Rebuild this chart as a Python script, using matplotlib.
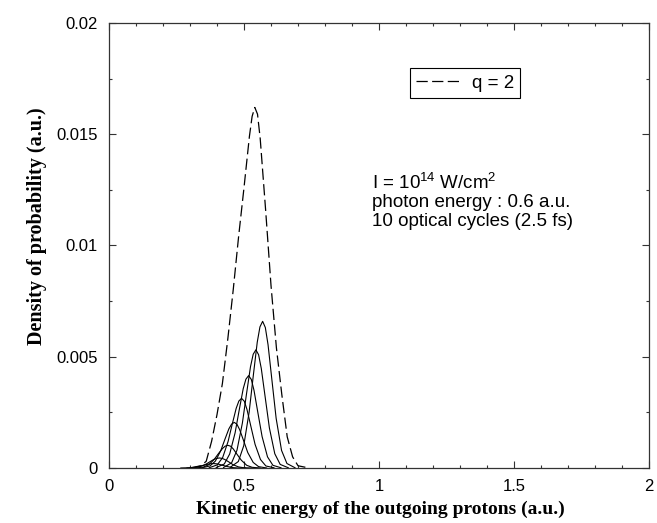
import matplotlib
matplotlib.use('Agg')
import matplotlib.pyplot as plt
from matplotlib.ticker import MultipleLocator

plt.rcParams['font.family'] = ['Liberation Sans', 'DejaVu Sans']
plt.rcParams['mathtext.fontset'] = 'custom'
plt.rcParams['mathtext.rm'] = 'Liberation Sans'
plt.rcParams['mathtext.it'] = 'Liberation Sans:italic'

# ---- data ----
# dashed total curve, q = 2
q2_x = [0.30, 0.34, 0.36, 0.38, 0.40, 0.42, 0.44, 0.46, 0.48, 0.50, 0.52, 0.53,
        0.54, 0.55, 0.56, 0.58, 0.60, 0.62, 0.64, 0.66, 0.68, 0.70, 0.74]
q2_y = [0.0, 0.0001, 0.0003, 0.0012, 0.0024, 0.0038, 0.0058, 0.0080, 0.0104,
        0.0126, 0.0149, 0.0158, 0.0162, 0.0159, 0.0148, 0.0116, 0.0082, 0.0054,
        0.0033, 0.0014, 0.0005, 0.0001, 0.0]

# individual solid curves
c1_x = [0.266, 0.296, 0.316, 0.336, 0.351, 0.366, 0.376, 0.386, 0.396, 0.406, 0.421, 0.436, 0.456, 0.476, 0.506]
c1_y = [0.0, 0.00001, 0.00003, 0.00008, 0.00012, 0.00017, 0.00019, 0.00020, 0.00019, 0.00017, 0.00012, 0.00007, 0.00002, 0.0, 0.0]

c2_x = [0.289, 0.319, 0.339, 0.359, 0.374, 0.389, 0.399, 0.409, 0.419, 0.429, 0.444, 0.459, 0.479, 0.499, 0.529]
c2_y = [0.0, 0.00002, 0.00007, 0.00017, 0.00028, 0.00039, 0.00043, 0.00045, 0.00043, 0.00038, 0.00027, 0.00015, 0.00005, 0.00001, 0.0]

c3_x = [0.320, 0.350, 0.370, 0.390, 0.405, 0.420, 0.430, 0.440, 0.450, 0.460, 0.475, 0.490, 0.510, 0.530, 0.560]
c3_y = [0.0, 0.00004, 0.00015, 0.00039, 0.00064, 0.00087, 0.00098, 0.00102, 0.00098, 0.00086, 0.00060, 0.00035, 0.00012, 0.00003, 0.0]

c4_x = [0.344, 0.374, 0.394, 0.414, 0.429, 0.444, 0.454, 0.464, 0.474, 0.484, 0.499, 0.514, 0.534, 0.554, 0.584]
c4_y = [0.00001, 0.00009, 0.00031, 0.00078, 0.00128, 0.00176, 0.00197, 0.00205, 0.00196, 0.00172, 0.00121, 0.00069, 0.00025, 0.00006, 0.0]

c5_x = [0.371, 0.401, 0.421, 0.441, 0.456, 0.471, 0.481, 0.491, 0.501, 0.511, 0.526, 0.541, 0.561, 0.581, 0.611]
c5_y = [0.00001, 0.00014, 0.00047, 0.00119, 0.00195, 0.00268, 0.00301, 0.00313, 0.00300, 0.00263, 0.00184, 0.00106, 0.00038, 0.00009, 0.00001]

c6_x = [0.397, 0.427, 0.447, 0.467, 0.482, 0.497, 0.507, 0.517, 0.527, 0.537, 0.552, 0.567, 0.587, 0.607, 0.637]
c6_y = [0.00002, 0.00018, 0.00063, 0.00158, 0.00259, 0.00356, 0.00399, 0.00415, 0.00398, 0.00349, 0.00244, 0.00141, 0.00050, 0.00012, 0.00001]

c7_x = [0.424, 0.454, 0.474, 0.494, 0.509, 0.524, 0.534, 0.544, 0.554, 0.564, 0.579, 0.594, 0.614, 0.634, 0.664]
c7_y = [0.00002, 0.00023, 0.00080, 0.00202, 0.00331, 0.00455, 0.00511, 0.00531, 0.00509, 0.00447, 0.00313, 0.00180, 0.00064, 0.00016, 0.00001]

c8_x = [0.449, 0.479, 0.499, 0.519, 0.534, 0.549, 0.559, 0.569, 0.579, 0.589, 0.604, 0.619, 0.639, 0.659, 0.689]
c8_y = [0.00003, 0.00029, 0.00100, 0.00251, 0.00411, 0.00565, 0.00634, 0.00659, 0.00631, 0.00554, 0.00388, 0.00223, 0.00079, 0.00020, 0.00001]

solid_x = [c1_x, c2_x, c3_x, c4_x, c5_x, c6_x, c7_x, c8_x]
solid_y = [c1_y, c2_y, c3_y, c4_y, c5_y, c6_y, c7_y, c8_y]

x_ticks = [0, 0.5, 1, 1.5, 2]
x_tick_labels = ['0', '0.5', '1', '1.5', '2']
y_ticks = [0, 0.005, 0.01, 0.015, 0.02]
y_tick_labels = ['0', '0.005', '0.01', '0.015', '0.02']

legend_label = 'q = 2'
info_lines = ['I = 10$^{14}$ W/cm$^{2}$', 'photon energy : 0.6 a.u.', '10 optical cycles (2.5 fs)']
x_label = 'Kinetic energy of the outgoing protons (a.u.)'
y_label = 'Density of probability (a.u.)'

# ---- figure ----
fig = plt.figure(figsize=(6.57, 5.23), dpi=100)
ax = fig.add_axes([0.1659, 0.1052, 0.822, 0.851])

for xs, ys in zip(solid_x, solid_y):
    ax.plot(xs, ys, color='black', lw=0.8)
ax.plot(q2_x, q2_y, color='black', lw=0.9, dashes=(9, 3.5), label=legend_label)

ax.set_xlim(0, 2)
ax.set_ylim(0, 0.02)
ax.set_xticks(x_ticks)
ax.set_xticklabels(x_tick_labels)
ax.set_yticks(y_ticks)
ax.set_yticklabels(y_tick_labels)
ax.xaxis.set_minor_locator(MultipleLocator(0.1))
ax.yaxis.set_minor_locator(MultipleLocator(0.0025))
ax.tick_params(which='both', direction='in', top=True, right=True, width=0.8, color='#333333')
ax.tick_params(which='major', length=5, labelsize=12, pad=8)
ax.tick_params(which='minor', length=2.5)
for s in ax.spines.values():
    s.set_linewidth(0.9)
    s.set_color('#333333')

ax.set_xlabel(x_label, family='Liberation Serif', fontweight='bold', fontsize=14)
ax.xaxis.set_label_coords(0.503, -0.093)
ax.xaxis.label.set_va('center')
ax.set_ylabel(y_label, family='Liberation Serif', fontweight='bold', fontsize=14.5)
ax.yaxis.set_label_coords(-0.133, 0.544)
ax.yaxis.label.set_va('center')

leg = ax.legend(loc='upper left', bbox_to_anchor=(0.557, 0.899), borderaxespad=0,
                frameon=True, fancybox=False, edgecolor='black', framealpha=1,
                handlelength=2.35, fontsize=13.5, borderpad=0.35, handletextpad=0.6)
leg.get_frame().set_linewidth(0.8)

for i, line in enumerate(info_lines):
    ax.text(0.487, 0.627 - i * 0.0416, line, transform=ax.transAxes, fontsize=13.5,
            va='baseline', ha='left')

fig.savefig('out.png', dpi=100)
